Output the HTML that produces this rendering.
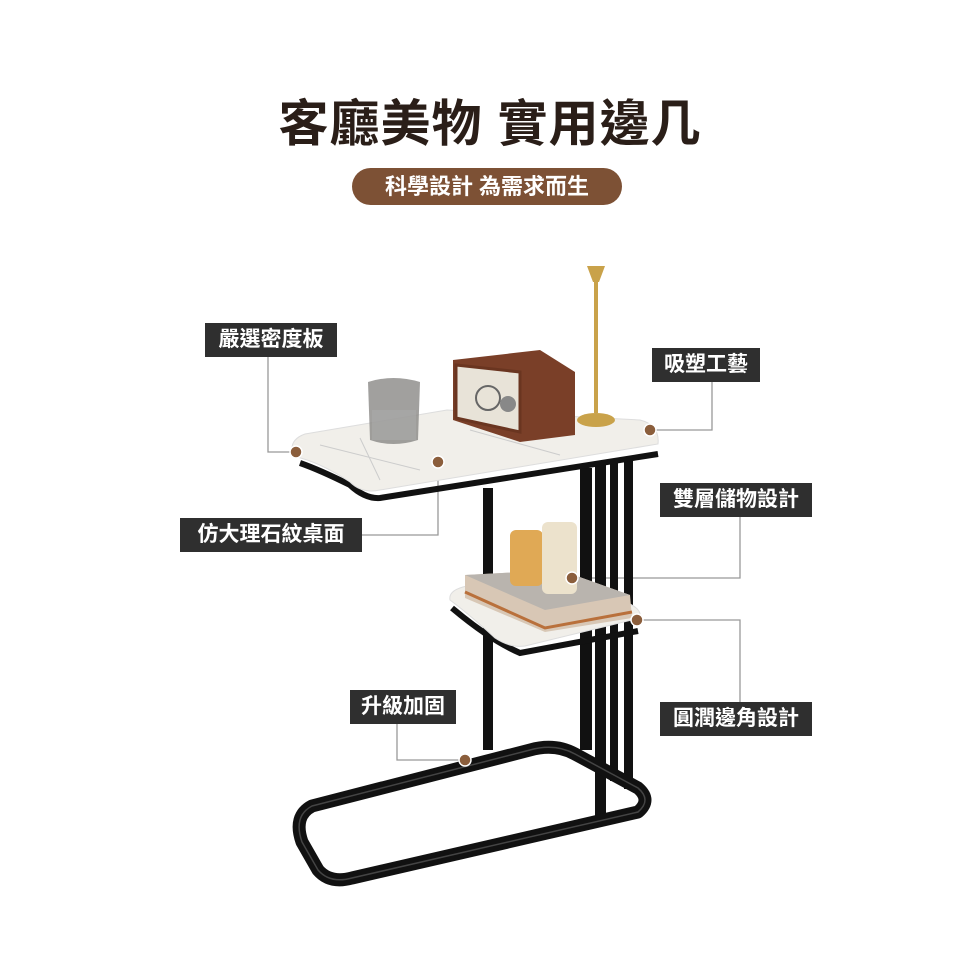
<!DOCTYPE html>
<html><head><meta charset="utf-8"><style>
body{margin:0;background:#fff;}
.w{position:relative;width:980px;height:980px;overflow:hidden;font-family:"Liberation Sans","Noto Sans CJK TC",sans-serif;}
.t{position:absolute;left:0;width:980px;top:92px;text-align:center;font-size:50px;font-weight:bold;color:#2a1e18;letter-spacing:1px;line-height:64px}
.p{position:absolute;left:352px;top:168px;width:270px;height:37px;border-radius:19px;background:#7d5135;color:#fff;font-size:22px;font-weight:bold;text-align:center;line-height:37px}
.l{position:absolute;background:#2f2f2f;color:#fff;font-size:21px;line-height:34px;height:34px;text-align:center;font-weight:bold}
svg{position:absolute;left:0;top:0}
</style></head><body><div class="w">
<svg width="980" height="980">
<g fill="none" stroke="#999" stroke-width="1.3">
<polyline points="268,357 268,452 296,452"/>
<polyline points="712,382 712,430 650,430"/>
<polyline points="740,517 740,578 572,578"/>
<polyline points="362,535 438,535 438,462"/>
<polyline points="397,724 397,760 465,760"/>
<polyline points="740,702 740,620 637,620"/>
</g>
<!-- legs -->
<g fill="#111">
<rect x="483" y="488" width="10" height="262"/>
<rect x="580" y="468" width="12" height="282"/>
<rect x="595" y="465" width="11" height="355"/>
<rect x="610" y="461" width="8" height="320"/>
<rect x="624" y="461" width="9" height="328"/>
</g>
<!-- base -->
<path d="M312,806 L530,750 Q555,743 575,754 L638,788 Q652,800 638,812 L352,878 Q330,884 318,870 L302,842 Q293,816 312,806 Z" fill="none" stroke="#111" stroke-width="13" stroke-linejoin="round"/>
<path d="M312,806 L530,750 Q555,743 575,754 L638,788 Q652,800 638,812 L352,878 Q330,884 318,870 L302,842 Q293,816 312,806 Z" fill="none" stroke="#444" stroke-width="1.5"/>
<!-- top slab -->
<path d="M300,463 Q320,470 350,485 Q365,499 380,498 L658,454" fill="none" stroke="#111" stroke-width="6"/>
<path d="M293,456 Q288,440 305,434 L447,410 L640,420 Q660,425 658,444 L380,490 Q362,494 350,482 Q320,462 293,456 Z" fill="#f1efea" stroke="#ddd" stroke-width="1"/>
<path d="M320,445 L420,470 M470,430 L560,455 M360,438 L380,480" stroke="#ccc" stroke-width="1" fill="none"/>
<!-- shelf -->
<path d="M452,608 Q490,640 520,653 L638,631" fill="none" stroke="#111" stroke-width="6"/>
<path d="M450,600 Q448,590 467,586 L630,604 Q642,610 640,618 L525,646 Q510,648 495,638 Q470,615 450,600 Z" fill="#f1efea" stroke="#ddd"/>
<!-- books -->
<path d="M465,575 L560,570 L630,595 L632,618 L545,632 L465,598 Z" fill="#d8c7b5"/>
<path d="M465,575 L560,570 L630,595 L545,610 Z" fill="#b9b4ae"/>
<path d="M465,592 L545,628 L632,612" fill="none" stroke="#b9703b" stroke-width="3"/>
<!-- candles -->
<rect x="510" y="530" width="33" height="56" rx="6" fill="#e0a955"/>
<rect x="542" y="522" width="35" height="72" rx="6" fill="#ece2cc"/>
<!-- glass -->
<path d="M368,382 Q393,374 420,382 L418,440 Q393,448 370,440 Z" fill="#8a8886" opacity="0.8"/>
<rect x="372" y="410" width="44" height="30" fill="#aaa" opacity="0.6"/>
<!-- radio -->
<path d="M453,360 L540,350 L575,372 L575,435 L520,442 L453,420 Z" fill="#7a3f28"/>
<path d="M456,365 L520,372 L520,432 L456,418 Z" fill="#e8e3d8" stroke="#6a3520" stroke-width="3"/>
<circle cx="488" cy="398" r="12" fill="none" stroke="#666" stroke-width="2"/>
<circle cx="508" cy="404" r="8" fill="#888"/>
<!-- candlestick -->
<path d="M587,266 L605,266 L599,282 L593,282 Z" fill="#c9a24a"/>
<rect x="594" y="280" width="4" height="133" fill="#c9a24a"/>
<ellipse cx="596" cy="420" rx="19" ry="7" fill="#c9a24a"/>
<!-- dots -->
<g fill="#8b5e3c" stroke="#fff" stroke-width="1.5">
<circle cx="296" cy="452" r="6"/><circle cx="650" cy="430" r="6"/><circle cx="438" cy="462" r="6"/>
<circle cx="572" cy="578" r="6"/><circle cx="637" cy="620" r="6"/><circle cx="465" cy="760" r="6"/>
</g>
</svg>
<div class="t">客廳美物 實用邊几</div>
<div class="p">科學設計 為需求而生</div>
<div class="l" style="left:205px;top:323px;width:132px">嚴選密度板</div>
<div class="l" style="left:652px;top:348px;width:108px">吸塑工藝</div>
<div class="l" style="left:660px;top:483px;width:152px">雙層儲物設計</div>
<div class="l" style="left:180px;top:518px;width:182px">仿大理石紋桌面</div>
<div class="l" style="left:350px;top:690px;width:106px">升級加固</div>
<div class="l" style="left:660px;top:702px;width:152px">圓潤邊角設計</div>
</div></body></html>
